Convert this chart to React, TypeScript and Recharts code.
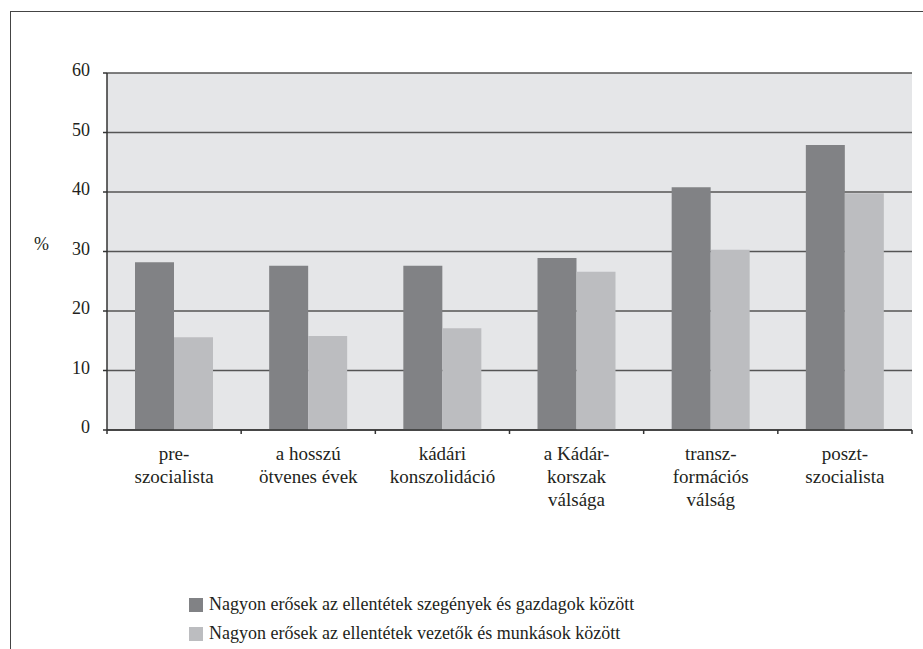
import { BarChart, Bar, XAxis, YAxis, CartesianGrid } from "recharts";

const categories = [
  "pre-\nszocialista",
  "a hosszú\nötvenes évek",
  "kádári\nkonszolidáció",
  "a Kádár-\nkorszak\nválsága",
  "transz-\nformációs\nválság",
  "poszt-\nszocialista",
];
const richPoor = [28.2, 27.6, 27.6, 28.9, 40.8, 47.9];
const leadersWorkers = [15.6, 15.8, 17.1, 26.6, 30.3, 39.8];
const yTicks = [0, 10, 20, 30, 40, 50, 60];
const seriesNames = [
  "Nagyon erősek az ellentétek szegények és gazdagok között",
  "Nagyon erősek az ellentétek vezetők és munkások között",
];
const seriesColors = ["#818285", "#bcbdc0"];

const data = categories.map((c, i) => ({
  category: c,
  richPoor: richPoor[i],
  leadersWorkers: leadersWorkers[i],
}));

const W = 923;
const H = 649;
const M = { top: 73, right: 11, left: 20, bottom: 0 };
const Y_AXIS_W = 87;
const X_AXIS_H = 219;
const PLOT_W = W - M.left - M.right - Y_AXIS_W;
const FONT = "Liberation Serif, DejaVu Serif, serif";
const INK = "#231f20";

const CategoryTick = (props: any) => {
  const { x, y, payload, index } = props;
  const band = PLOT_W / categories.length;
  const lines = String(payload.value).split("\n");
  return (
    <g>
      <line x1={x - band / 2} x2={x - band / 2} y1={y} y2={y + 4} stroke="#333" strokeWidth={1.5} />
      {index === categories.length - 1 && (
        <line x1={x + band / 2} x2={x + band / 2} y1={y} y2={y + 4} stroke="#333" strokeWidth={1.5} />
      )}
      <text textAnchor="middle" style={{ fontFamily: FONT }} fontSize={19} fill={INK}>
        {lines.map((l, i) => (
          <tspan key={i} x={x} y={y + 30 + i * 23}>
            {l}
          </tspan>
        ))}
      </text>
    </g>
  );
};

const ValueTick = (props: any) => {
  const { x, y, payload } = props;
  return (
    <text x={x} y={y + 3} textAnchor="end" style={{ fontFamily: FONT }} fontSize={18} fill={INK}>
      {payload.value}
    </text>
  );
};

export default function App() {
  return (
    <div style={{ position: "relative", width: W, height: H, background: "#fff" }}>
      <style>{"body{margin:0}"}</style>
      <div
        style={{
          position: "absolute",
          left: 10,
          top: 11,
          width: W - 10,
          height: H - 11,
          borderLeft: "1.5px solid #444",
          borderTop: "1.5px solid #444",
          boxSizing: "border-box",
        }}
      />
      <BarChart
        width={W}
        height={H}
        data={data}
        margin={M}
        barGap={0}
        style={{ position: "absolute", left: 0, top: 0 }}
      >
        <CartesianGrid
          yAxisId="l"
          vertical={false}
          stroke="#555"
          strokeWidth={1.5}
          fill="#e5e6e8"
          fillOpacity={1}
        />
        <XAxis
          dataKey="category"
          height={X_AXIS_H}
          interval={0}
          tickLine={false}
          tickSize={0}
          tickMargin={0}
          axisLine={{ stroke: "#333", strokeWidth: 1.5 }}
          tick={<CategoryTick />}
        />
        <YAxis
          yAxisId="l"
          width={Y_AXIS_W}
          domain={[0, 60]}
          ticks={yTicks}
          interval={0}
          tickSize={4}
          tickMargin={13}
          axisLine={{ stroke: "#333", strokeWidth: 1.5 }}
          tickLine={{ stroke: "#333", strokeWidth: 1.5 }}
          tick={<ValueTick />}
          label={{
            value: "%",
            position: "insideLeft",
            offset: 14,
            dy: -8,
            style: { fontFamily: FONT, fontSize: 18, fill: INK },
          }}
        />
        <YAxis
          yAxisId="r"
          orientation="right"
          width={0}
          domain={[0, 60]}
          tick={false}
          tickLine={false}
          axisLine={{ stroke: "#555", strokeWidth: 1.5 }}
        />
        <Bar yAxisId="l" dataKey="richPoor" name={seriesNames[0]} fill={seriesColors[0]} barSize={39} isAnimationActive={false} />
        <Bar yAxisId="l" dataKey="leadersWorkers" name={seriesNames[1]} fill={seriesColors[1]} barSize={39} isAnimationActive={false} />
      </BarChart>
      <div style={{ position: "absolute", left: 189, top: 590, fontFamily: FONT, fontSize: 18, color: INK }}>
        {seriesNames.map((n, i) => (
          <div key={n} style={{ display: "flex", alignItems: "center", height: 29 }}>
            <span style={{ display: "inline-block", width: 14, height: 14, background: seriesColors[i], marginRight: 6 }} />
            <span>{n}</span>
          </div>
        ))}
      </div>
    </div>
  );
}
